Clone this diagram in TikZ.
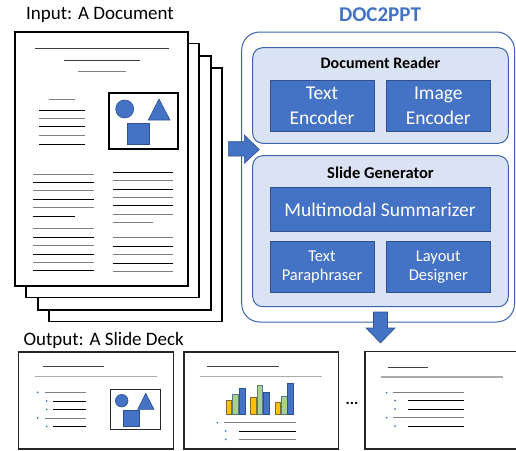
\documentclass[tikz,border=0pt]{standalone}
\usepackage{fontspec}
\setmainfont{Carlito}
\definecolor{bblue}{HTML}{4472C4}
\definecolor{bedge}{HTML}{2F528F}
\definecolor{lblue}{HTML}{DAE3F3}
\definecolor{oedge}{HTML}{3C64AE}
\definecolor{lgray}{HTML}{ABABAB}
\definecolor{mgray}{HTML}{7F7F7F}
\definecolor{dgray}{HTML}{404040}
\definecolor{orng}{HTML}{FFC000}
\definecolor{orngedge}{HTML}{7F6A3A}
\definecolor{grn}{HTML}{A9D18E}
\definecolor{grnedge}{HTML}{5A7A8A}
\begin{document}
\begin{tikzpicture}[x=1pt,y=-1pt,
  page/.style={draw=black,fill=white,line width=1.3pt},
  bl/.style={draw=black,line width=0.9pt},
  gl/.style={draw=mgray,line width=0.9pt},
  tl/.style={draw=dgray,line width=0.9pt},
  hl/.style={draw=lgray,line width=1.2pt},
  shp/.style={fill=bblue,draw=bedge,line width=0.6pt},
  outerbox/.style={draw=oedge,fill=white,line width=1pt,rounded corners=18pt},
  groupbox/.style={draw=oedge,fill=lblue,line width=1pt,rounded corners=10pt},
  module/.style={draw=bedge,fill=bblue,line width=0.8pt,text=white,align=center,inner sep=0pt},
  slide/.style={draw=black!85,fill=white,line width=1.3pt},
  dotb/.style={fill=bblue,draw=none},
  blockarrow/.style={fill=bblue,draw=bedge,line width=0.6pt},
  bar/.style={line width=0.6pt}
]
\clip (0,0) rectangle (516,450);
\fill[white] (0,0) rectangle (516,450);

% ---------- input document stack ----------
\node[font=\fontsize{19}{22}\selectfont,anchor=center] (inlbl) at (100,15) {Input: A Document};
\draw[page] (49,68) rectangle (222,321.5);
\draw[page] (38,56) rectangle (211,310);
\draw[page] (26,43.3) rectangle (199,297.7);
\draw[page] (15,32) rectangle (188,286);

\draw[tl] (35,48.3) -- (169,48.3);
\draw[tl] (64,60.7) -- (140,60.7);
\draw[gl] (78,71.7) -- (126,71.7);
\draw[gl] (49,99) -- (75,99);
\foreach \yy/\st in {110/bl,118.3/gl,126.7/bl,135.3/gl,144/bl}
  \draw[\st] (39,\yy) -- (85,\yy);
\foreach \yy/\st in {174/gl,182.3/bl,190.7/gl,199/bl,207.3/gl,228.7/gl,237/bl,245.3/gl,254/bl,262.3/gl,270.7/bl}
  \draw[\st] (33,\yy) -- (94,\yy);
\draw[bl] (33,216) -- (75,216);
\foreach \yy/\st in {172.3/bl,180.7/gl,189/bl,197.3/gl,205.7/bl,214.3/gl,237.7/gl,246/bl,254.3/gl,263/bl,271.3/gl}
  \draw[\st] (112.7,\yy) -- (173,\yy);
\draw[gl] (112.7,222.7) -- (153,222.7);

\draw[draw=black,line width=1.2pt] (109,93) rectangle (178,149);
\draw[shp] (124.7,109) circle (9);
\draw[shp] (159,99) -- (148.3,120) -- (170,120) -- cycle;
\draw[shp] (127,123.3) rectangle (149,144.7);

% ---------- DOC2PPT ----------
\node[font=\bfseries\fontsize{21}{24}\selectfont,text=bblue] (title) at (380,15) {DOC2PPT};
\draw[outerbox] (241.7,32) rectangle (514.5,322);
% arrow into model
\draw[blockarrow] (228.3,141.7) -- (244.3,141.7) -- (244.3,135) -- (259.3,149.5) -- (244.3,163.3) -- (244.3,156) -- (228.3,156) -- cycle;

\draw[groupbox] (252.7,47.7) rectangle (508.3,143.3);
\node[font=\bfseries\fontsize{16}{18}\selectfont] (reader) at (380.5,63.3) {Document Reader};
\node[module,minimum width=104pt,minimum height=51pt,font=\fontsize{19.5}{24.7}\selectfont] (tenc) at (322,105.5) {Text\\Encoder};
\node[module,minimum width=103.3pt,minimum height=51pt,font=\fontsize{19.5}{24.7}\selectfont] (ienc) at (438.3,105.5) {Image\\Encoder};

\draw[groupbox] (252.7,155.7) rectangle (508.3,306.7);
\node[font=\bfseries\fontsize{16.5}{18}\selectfont] (gen) at (380.5,172.3) {Slide Generator};
\node[module,minimum width=220pt,minimum height=44pt,font=\fontsize{19.5}{22}\selectfont] (summ) at (380,209.7) {Multimodal Summarizer};
\node[module,minimum width=104pt,minimum height=51.7pt,font=\fontsize{16.5}{19}\selectfont] (para) at (322,266.8) {Text\\Paraphraser};
\node[module,minimum width=103.3pt,minimum height=51.7pt,font=\fontsize{16.5}{19}\selectfont] (layout) at (438.3,266.8) {Layout\\Designer};

% ---------- arrow out ----------
\draw[blockarrow] (373.5,312) -- (387.5,312) -- (387.5,328) -- (395,328) -- (380.5,343) -- (366,328) -- (373.5,328) -- cycle;

% ---------- output slides ----------
\node[font=\fontsize{19}{22}\selectfont,anchor=west,inner sep=0pt] (outlbl) at (23.3,340) {Output: A Slide Deck};

% slide 1
\draw[slide] (18.3,352) rectangle (173.3,449);
\draw[tl] (43.3,366.7) -- (104,366.7);
\draw[hl] (35,376.7) -- (156.7,376.7);
\foreach \yy/\st in {392.3/gl,418/gl}{
  \fill[dotb] (37.7,\yy) circle (1);
  \draw[\st] (45,\yy) -- (86,\yy);}
\foreach \yy/\st in {401/bl,409.3/bl,426.3/bl}{
  \fill[dotb] (46.7,\yy) circle (1);
  \draw[\st] (53.3,\yy) -- (86,\yy);}
\draw[draw=black!85,line width=1.2pt] (110.7,389.3) rectangle (160.3,429.3);
\draw[shp] (121.7,400.7) circle (6.3);
\draw[shp] (145.7,393.3) -- (137.7,409.3) -- (154,409.3) -- cycle;
\draw[shp] (123.3,410.7) rectangle (139.3,426);

% slide 2
\draw[slide] (184,352) rectangle (338.3,449);
\draw[tl] (207.3,366.7) -- (279.3,366.7);
\draw[hl] (200,376.7) -- (322.3,376.7);
\foreach \xa/\xb/\yt/\cf/\ce in {
  226/231.7/400/orng/orngedge, 232.3/238.3/394/grn/grnedge, 239/245/388.7/bblue/bedge,
  250/256.3/397/orng/orngedge, 257/262.7/385.7/grn/grnedge, 263.3/269.3/392.7/bblue/bedge,
  275/280.7/402/orng/orngedge, 281/287/396/grn/grnedge, 287.7/293.7/383.3/bblue/bedge}
  \draw[bar,fill=\cf,draw=\ce] (\xa,414) rectangle (\xb,\yt);
\fill[dotb] (217.3,422.7) circle (1);
\draw[gl] (224,422.7) -- (296,422.7);
\fill[dotb] (225.7,431) circle (1);
\draw[bl] (239,431) -- (296,431);
\fill[dotb] (225.7,439.3) circle (1);
\draw[gl,line width=1.2pt] (239,439.3) -- (296,439.3);

% ellipsis
\node[font=\bfseries\fontsize{16}{18}\selectfont,anchor=base] (dots) at (352,404) {...};

% slide 3
\draw[slide] (365,351.7) rectangle (540,449);
\draw[tl] (387.7,367) -- (428.3,367);
\draw[hl] (381,377) -- (503.3,377);
\foreach \yy in {392.7,417.7}{
  \fill[dotb] (386.7,\yy) circle (1);
  \draw[gl] (393.3,\yy) -- (464.3,\yy);}
\foreach \yy in {400.7,409,426}{
  \fill[dotb] (395,\yy) circle (1);
  \draw[bl] (407.7,\yy) -- (464.3,\yy);}
\end{tikzpicture}
\end{document}
